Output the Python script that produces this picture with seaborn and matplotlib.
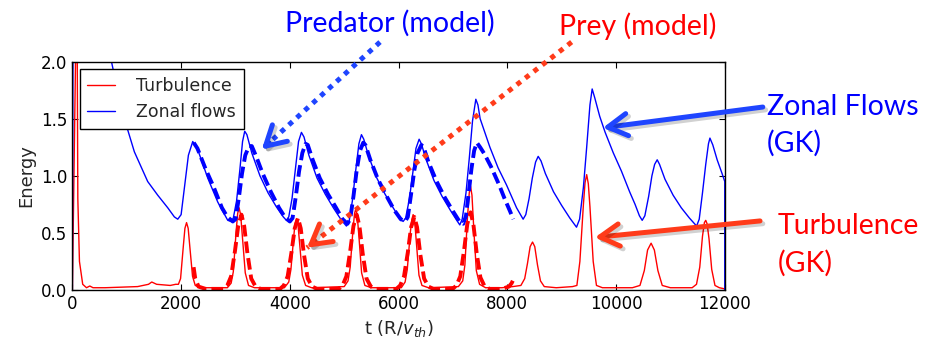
import matplotlib
matplotlib.use('Agg')
import matplotlib.pyplot as plt
import matplotlib.patheffects as pe
import numpy as np
import pandas as pd
import seaborn as sns

# Zonal flows (GK), solid blue
zonal_t = [0, 15, 300, 600, 710, 834, 987, 1140, 1385, 1570, 1754, 1876, 1938, 2000, 2060, 2134, 2214,
           2305, 2490, 2674, 2858, 2919,
           2960, 3020, 3080, 3130, 3170, 3210, 3300, 3450, 3600, 3750, 3880, 3937,
           3980, 4040, 4100, 4160, 4213, 4260, 4350, 4500, 4650, 4800, 4950, 5041,
           5090, 5150, 5210, 5270, 5317, 5360, 5450, 5600, 5750, 5900, 6020, 6083,
           6130, 6200, 6260, 6320, 6378, 6420, 6500, 6650, 6800, 6950, 7070, 7126,
           7170, 7240, 7300, 7360, 7421, 7460, 7500, 7680, 7830, 7985, 8170, 8291,
           8340, 8400, 8460, 8520, 8568, 8620, 8700, 8850, 9000, 9150, 9273,
           9330, 9400, 9460, 9520, 9561, 9610, 9700, 9800, 9950, 10100, 10250, 10350, 10430, 10481,
           10530, 10600, 10660, 10710, 10757, 10800, 10900, 11050, 11200, 11350, 11482,
           11530, 11590, 11650, 11700, 11727, 11780, 11860, 11950, 12000, 12000]
zonal_e = [0.0, 2.9, 2.9, 2.4, 2.02, 1.74, 1.45, 1.21, 0.95, 0.83, 0.72, 0.64, 0.62, 0.66, 0.89, 1.18, 1.30,
           1.23, 0.98, 0.77, 0.61, 0.60,
           0.63, 0.78, 1.05, 1.30, 1.39, 1.36, 1.20, 1.00, 0.85, 0.73, 0.64, 0.61,
           0.64, 0.80, 1.05, 1.30, 1.38, 1.34, 1.18, 0.98, 0.84, 0.72, 0.61, 0.56,
           0.60, 0.78, 1.04, 1.28, 1.36, 1.32, 1.17, 0.98, 0.84, 0.72, 0.63, 0.60,
           0.63, 0.80, 1.02, 1.24, 1.32, 1.28, 1.15, 0.96, 0.82, 0.70, 0.61, 0.57,
           0.62, 0.85, 1.15, 1.48, 1.67, 1.62, 1.50, 1.25, 1.07, 0.92, 0.72, 0.62,
           0.66, 0.80, 0.98, 1.12, 1.17, 1.13, 1.02, 0.86, 0.74, 0.63, 0.55,
           0.62, 0.90, 1.25, 1.62, 1.76, 1.68, 1.52, 1.38, 1.20, 1.04, 0.86, 0.75, 0.65, 0.61,
           0.65, 0.82, 1.00, 1.10, 1.14, 1.10, 0.97, 0.83, 0.72, 0.63, 0.56,
           0.62, 0.85, 1.10, 1.28, 1.33, 1.27, 1.14, 1.02, 0.95, 0.0]

# Turbulence (GK), solid red
turb_t = [0, 75, 85, 100, 130, 190, 260, 320, 380, 600, 900, 1200, 1400, 1460, 1550, 1800, 1900,
          1950, 1990, 2040, 2070, 2100, 2130, 2160, 2210, 2260, 2350,
          2850, 2920, 2960, 3010, 3040, 3066, 3095, 3130, 3180, 3240, 3350,
          3900, 3980, 4020, 4070, 4095, 4121, 4150, 4185, 4230, 4290, 4400,
          5000, 5070, 5110, 5160, 5190, 5213, 5240, 5275, 5320, 5380, 5500,
          6050, 6120, 6160, 6215, 6245, 6268, 6295, 6330, 6375, 6430, 6550,
          7100, 7180, 7220, 7265, 7300, 7323, 7350, 7385, 7430, 7490, 7600, 7900, 8100,
          8250, 8320, 8370, 8420, 8464, 8505, 8555, 8610, 8680, 8900, 9200,
          9280, 9335, 9400, 9430, 9460, 9490, 9520, 9580, 9640, 9750, 10300,
          10440, 10520, 10580, 10645, 10705, 10770, 10850, 11000, 11400,
          11480, 11540, 11590, 11625, 11650, 11675, 11710, 11760, 11820, 11900, 12000]
turb_e = [0.0, 2.6, 2.6, 0.8, 0.25, 0.05, 0.02, 0.035, 0.02, 0.02, 0.025, 0.03, 0.05, 0.07, 0.05, 0.04, 0.05,
          0.05, 0.10, 0.38, 0.54, 0.59, 0.54, 0.38, 0.12, 0.04, 0.02,
          0.02, 0.06, 0.16, 0.50, 0.67, 0.72, 0.66, 0.45, 0.15, 0.04, 0.02,
          0.02, 0.07, 0.18, 0.46, 0.58, 0.62, 0.57, 0.38, 0.13, 0.04, 0.02,
          0.03, 0.08, 0.20, 0.52, 0.67, 0.71, 0.65, 0.44, 0.15, 0.04, 0.02,
          0.02, 0.07, 0.18, 0.50, 0.62, 0.66, 0.61, 0.40, 0.13, 0.04, 0.02,
          0.03, 0.08, 0.22, 0.62, 0.85, 0.91, 0.83, 0.52, 0.17, 0.05, 0.02, 0.02, 0.03,
          0.04, 0.10, 0.23, 0.38, 0.42, 0.38, 0.22, 0.08, 0.03, 0.02, 0.03,
          0.04, 0.25, 0.75, 0.94, 1.01, 0.93, 0.73, 0.25, 0.04, 0.02, 0.02,
          0.04, 0.17, 0.35, 0.41, 0.35, 0.17, 0.04, 0.02, 0.02,
          0.05, 0.20, 0.47, 0.59, 0.61, 0.58, 0.45, 0.18, 0.04, 0.02, 0.01]

# Predator (model), dashed blue
pred_t = [2232, 2300, 2450, 2600, 2750, 2850, 2950, 3000, 3060, 3120, 3180, 3250, 3300, 3380, 3500,
          3650, 3800, 3920, 4000, 4050, 4110, 4170, 4230, 4290, 4330, 4420, 4550, 4700, 4850, 4970,
          5060, 5110, 5170, 5230, 5290, 5350, 5390, 5480, 5620, 5770, 5920, 6040, 6120, 6170, 6230,
          6290, 6350, 6420, 6460, 6550, 6700, 6850, 7000, 7120, 7190, 7240, 7290, 7340, 7390, 7440,
          7500, 7580, 7700, 7850, 7950, 8050, 8110]
pred_e = [1.29, 1.24, 1.06, 0.90, 0.72, 0.64, 0.60, 0.62, 0.80, 1.02, 1.18, 1.26, 1.26, 1.17, 1.02,
          0.86, 0.72, 0.63, 0.60, 0.63, 0.82, 1.04, 1.20, 1.28, 1.27, 1.14, 0.98, 0.84, 0.72, 0.62,
          0.58, 0.62, 0.82, 1.05, 1.22, 1.29, 1.27, 1.14, 0.97, 0.83, 0.70, 0.62, 0.60, 0.64, 0.84,
          1.05, 1.20, 1.27, 1.25, 1.12, 0.95, 0.81, 0.69, 0.60, 0.58, 0.65, 0.85, 1.06, 1.22, 1.29,
          1.25, 1.19, 1.08, 0.92, 0.80, 0.69, 0.62]

# Prey (model), dashed red
prey_t = [2230, 2260, 2320, 2450,
          2780, 2850, 2920, 2990, 3050, 3110, 3160, 3220, 3290, 3370, 3460,
          3820, 3890, 3960, 4030, 4090, 4150, 4200, 4260, 4330, 4410, 4500,
          4900, 4970, 5040, 5110, 5170, 5230, 5280, 5340, 5410, 5490, 5580,
          5960, 6030, 6100, 6170, 6230, 6290, 6340, 6400, 6470, 6550, 6640,
          6995, 7065, 7135, 7205, 7265, 7325, 7375, 7435, 7505, 7585, 7675,
          7900, 8030, 8080, 8140]
prey_e = [0.20, 0.10, 0.03, 0.01,
          0.01, 0.04, 0.12, 0.34, 0.56, 0.66, 0.56, 0.32, 0.10, 0.03, 0.01,
          0.01, 0.04, 0.12, 0.33, 0.54, 0.63, 0.54, 0.31, 0.10, 0.03, 0.01,
          0.01, 0.04, 0.12, 0.34, 0.56, 0.66, 0.56, 0.32, 0.10, 0.03, 0.01,
          0.01, 0.04, 0.12, 0.33, 0.55, 0.64, 0.55, 0.31, 0.10, 0.03, 0.01,
          0.01, 0.04, 0.12, 0.35, 0.58, 0.68, 0.58, 0.33, 0.11, 0.03, 0.01,
          0.01, 0.03, 0.06, 0.12]

x_ticks = [0, 2000, 4000, 6000, 8000, 10000, 12000]
y_ticks = [0.0, 0.5, 1.0, 1.5, 2.0]

sns.set_style('white')
plt.rcParams.update({
    'font.family': ['DejaVu Sans'],
    'xtick.direction': 'in', 'ytick.direction': 'in',
    'xtick.top': True, 'ytick.right': True,
    'xtick.bottom': True, 'ytick.left': True,
    'xtick.major.size': 4, 'ytick.major.size': 4,
    'xtick.color': 'black', 'ytick.color': 'black',
    'axes.edgecolor': 'black', 'axes.linewidth': 1.0,
})

fig = plt.figure(figsize=(9.28, 3.42), dpi=100)
ax = fig.add_axes([0.078, 0.152, 0.703, 0.668])

turb = pd.DataFrame({'t': turb_t, 'E': turb_e})
zonal = pd.DataFrame({'t': zonal_t, 'E': zonal_e})
pred = pd.DataFrame({'t': pred_t, 'E': pred_e})
prey = pd.DataFrame({'t': prey_t, 'E': prey_e})

sns.lineplot(data=turb, x='t', y='E', color='#ff0000', lw=1.0, estimator=None, sort=False, ax=ax)
sns.lineplot(data=zonal, x='t', y='E', color='#0000ff', lw=1.0, estimator=None, sort=False, ax=ax)
sns.lineplot(data=pred, x='t', y='E', color='#0000ff', lw=2.8, linestyle=(0, (3, 1.3)),
             estimator=None, sort=False, ax=ax)
sns.lineplot(data=prey, x='t', y='E', color='#ff0000', lw=2.8, linestyle=(0, (3, 1.3)),
             estimator=None, sort=False, ax=ax)

ax.set_xlim(0, 12000)
ax.set_ylim(0, 2.0)
ax.set_xticks(x_ticks)
ax.set_yticks(y_ticks)
ax.set_yticklabels([f'{v:.1f}' for v in y_ticks])
ax.tick_params(labelsize=12)
ax.set_xlabel(r't (R/$v_{th}$)', fontsize=13)
ax.set_ylabel('Energy', fontsize=13)

lines = ax.get_lines()
leg = ax.legend([lines[0], lines[1]], ['Turbulence', 'Zonal flows'], loc='upper left',
                fontsize=12.5, frameon=True, fancybox=False, framealpha=1, edgecolor='black',
                handlelength=1.6, handletextpad=1.2, borderpad=0.45, borderaxespad=0.42)
leg.get_frame().set_linewidth(1.0)

# annotations with arrows
shadow = [pe.SimpleLineShadow(offset=(2, -2), shadow_color='k', alpha=0.18), pe.Normal()]


def add_arrow(xy, tail, color, dotted=False):
    p_head = ax.transData.transform(xy)
    p_tail = fig.transFigure.transform(tail)
    d = (p_tail - p_head) / np.hypot(*(p_tail - p_head))
    style = dict(color=color, lw=3.6, shrinkA=0, shrinkB=0)
    head = '->,head_length=1.4,head_width=0.8'
    if dotted:
        ax.annotate('', xy=xy, xytext=tail, textcoords='figure fraction', annotation_clip=False,
                    arrowprops=dict(arrowstyle='-', linestyle=(0, (1, 1.15)), capstyle='butt', **style))
        ax.annotate('', xy=xy, xytext=tuple(d * 10), textcoords='offset pixels', annotation_clip=False,
                    arrowprops=dict(arrowstyle=head, path_effects=shadow, **style))
    else:
        ax.annotate('', xy=xy, xytext=tail, textcoords='figure fraction', annotation_clip=False,
                    arrowprops=dict(arrowstyle=head, path_effects=shadow, **style))


add_arrow((3483, 1.23), (0.4095, 0.877), '#1f45ff', dotted=True)
add_arrow((4315, 0.37), (0.616, 0.877), '#ff3b1a', dotted=True)
add_arrow((9757, 1.42), (0.822, 0.687), '#1f45ff')
add_arrow((9610, 0.46), (0.819, 0.354), '#ff3b1a')

txt = dict(fontsize=20.5, family='Lato', va='baseline')
fig.text(0.420, 0.907, 'Predator (model)', color='#0000ff', ha='center', **txt)
fig.text(0.687, 0.897, 'Prey (model)', color='#ff0000', ha='center', **txt)
fig.text(0.826, 0.664, 'Zonal Flows', color='#0000ff', ha='left', **txt)
fig.text(0.826, 0.555, '(GK)', color='#0000ff', ha='left', **txt)
fig.text(0.838, 0.316, 'Turbulence', color='#ff0000', ha='left', **txt)
fig.text(0.838, 0.206, '(GK)', color='#ff0000', ha='left', **txt)

fig.savefig('out.png', dpi=100)
